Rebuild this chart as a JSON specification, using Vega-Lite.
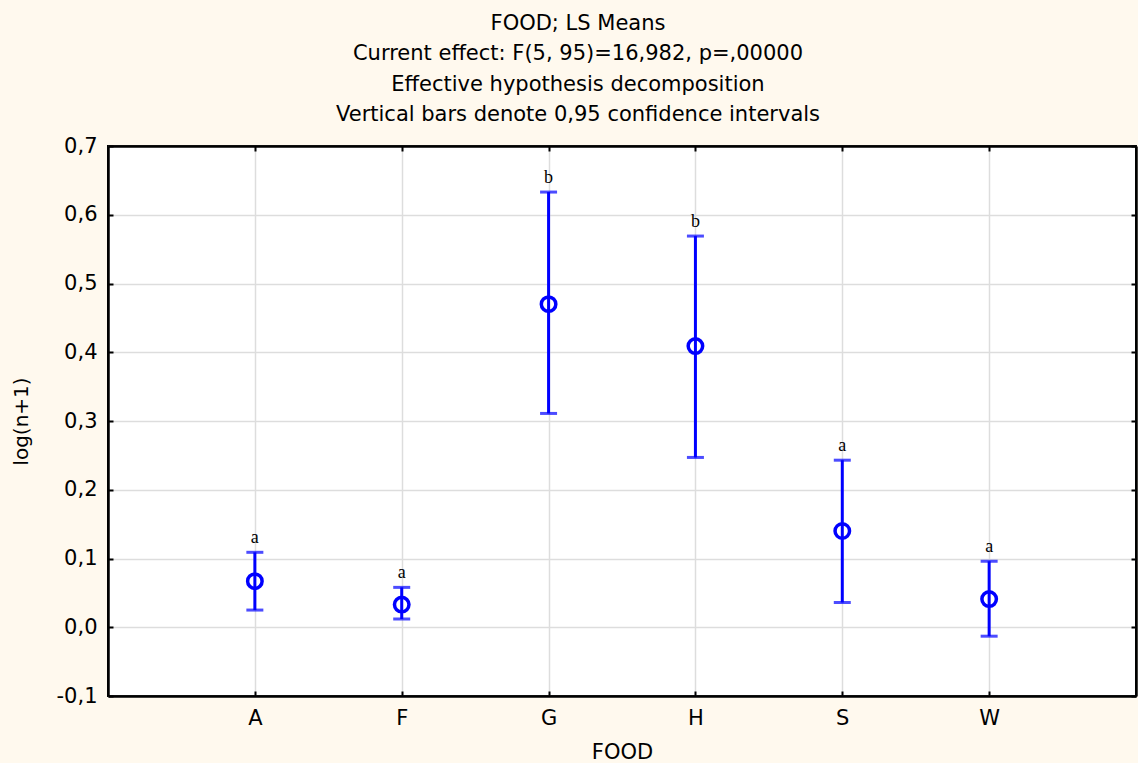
{
  "$schema": "https://vega.github.io/schema/vega-lite/v6.json",
  "width": 1028,
  "height": 550,
  "autosize": {"type": "none"},
  "padding": {"left": 108, "top": 146, "right": 2, "bottom": 67},
  "background": "#FFF9EE",
  "config": {
    "view": {"fill": "white", "stroke": "black", "strokeWidth": 2},
    "font": "DejaVu Sans"
  },
  "title": {
    "text": ["FOOD; LS Means", "Current effect: F(5, 95)=16,982, p=,00000", "Effective hypothesis decomposition", "Vertical bars denote 0,95 confidence intervals"],
    "fontSize": 21,
    "fontWeight": "normal",
    "lineHeight": 30.5,
    "offset": 10,
    "dx": -44,
    "color": "black",
    "font": "DejaVu Sans"
  },
  "data": {
    "values": [
      {"FOOD": "A", "mean": 0.067, "lo": 0.025, "hi": 0.109, "label": "a"},
      {"FOOD": "F", "mean": 0.033, "lo": 0.012, "hi": 0.058, "label": "a"},
      {"FOOD": "G", "mean": 0.470, "lo": 0.311, "hi": 0.633, "label": "b"},
      {"FOOD": "H", "mean": 0.409, "lo": 0.247, "hi": 0.569, "label": "b"},
      {"FOOD": "S", "mean": 0.140, "lo": 0.036, "hi": 0.243, "label": "a"},
      {"FOOD": "W", "mean": 0.041, "lo": -0.013, "hi": 0.096, "label": "a"}
    ]
  },
  "resolve": {"axis": {"x": "independent", "y": "independent"}},
  "layer": [
    {
      "mark": {"type": "rule", "color": "#0000FF", "strokeWidth": 3},
      "encoding": {
        "x": {
          "field": "FOOD", "type": "nominal",
          "scale": {"type": "point", "padding": 1},
          "axis": {
            "orient": "bottom", "title": "FOOD", "labelAngle": 0,
            "labelFontSize": 21, "labelColor": "black", "labelPadding": 16, "labelFont": "DejaVu Sans",
            "titleFontSize": 21, "titleFontWeight": "normal", "titleColor": "black", "titlePadding": 13, "titleFont": "DejaVu Sans",
            "grid": true, "gridColor": "#DDDDDD", "gridWidth": 1.5,
            "domainColor": "black", "domainWidth": 2.5,
            "tickColor": "black", "tickWidth": 2, "tickSize": -5
          }
        },
        "y": {
          "field": "lo", "type": "quantitative",
          "scale": {"domain": [-0.1, 0.7], "nice": false, "zero": false},
          "axis": {
            "orient": "left", "title": "log(n+1)",
            "values": [-0.1, 0, 0.1, 0.2, 0.3, 0.4, 0.5, 0.6, 0.7],
            "labelExpr": "replace(replace(format(datum.value, '.1f'), '.', ','), '\u2212', '-')",
            "labelFontSize": 21, "labelColor": "black", "labelPadding": 16, "labelFont": "DejaVu Sans",
            "titleFontSize": 20, "titleFontWeight": "normal", "titleColor": "black", "titlePadding": 25, "titleFont": "DejaVu Sans",
            "grid": true, "gridColor": "#DDDDDD", "gridWidth": 1.5,
            "domainColor": "black", "domainWidth": 2.5,
            "tickColor": "black", "tickWidth": 2, "tickSize": -5
          }
        },
        "y2": {"field": "hi"}
      }
    },
    {
      "mark": {"type": "tick", "color": "#0000FF", "thickness": 3, "size": 17, "orient": "horizontal"},
      "encoding": {
        "x": {"field": "FOOD", "type": "nominal", "axis": null},
        "y": {"field": "lo", "type": "quantitative", "axis": null}
      }
    },
    {
      "mark": {"type": "tick", "color": "#0000FF", "thickness": 3, "size": 17, "orient": "horizontal"},
      "encoding": {
        "x": {"field": "FOOD", "type": "nominal", "axis": null},
        "y": {"field": "hi", "type": "quantitative", "axis": null}
      }
    },
    {
      "mark": {"type": "point", "shape": "circle", "filled": false, "color": "#0000FF", "strokeWidth": 3.5, "size": 210, "opacity": 1},
      "encoding": {
        "x": {
          "field": "FOOD", "type": "nominal",
          "axis": {"orient": "top", "title": null, "labels": false, "grid": false, "domainColor": "black", "domainWidth": 2.5, "tickColor": "black", "tickWidth": 2, "tickSize": -5}
        },
        "y": {
          "field": "mean", "type": "quantitative",
          "axis": {"orient": "right", "title": null, "labels": false, "grid": false, "values": [-0.1, 0, 0.1, 0.2, 0.3, 0.4, 0.5, 0.6, 0.7], "domainColor": "black", "domainWidth": 2.5, "tickColor": "black", "tickWidth": 2, "tickSize": -5}
        }
      }
    },
    {
      "mark": {"type": "text", "font": "Liberation Serif", "fontSize": 18, "color": "black", "baseline": "alphabetic", "dy": -9},
      "encoding": {
        "x": {"field": "FOOD", "type": "nominal", "axis": null},
        "y": {"field": "hi", "type": "quantitative", "axis": null},
        "text": {"field": "label"}
      }
    }
  ]
}
